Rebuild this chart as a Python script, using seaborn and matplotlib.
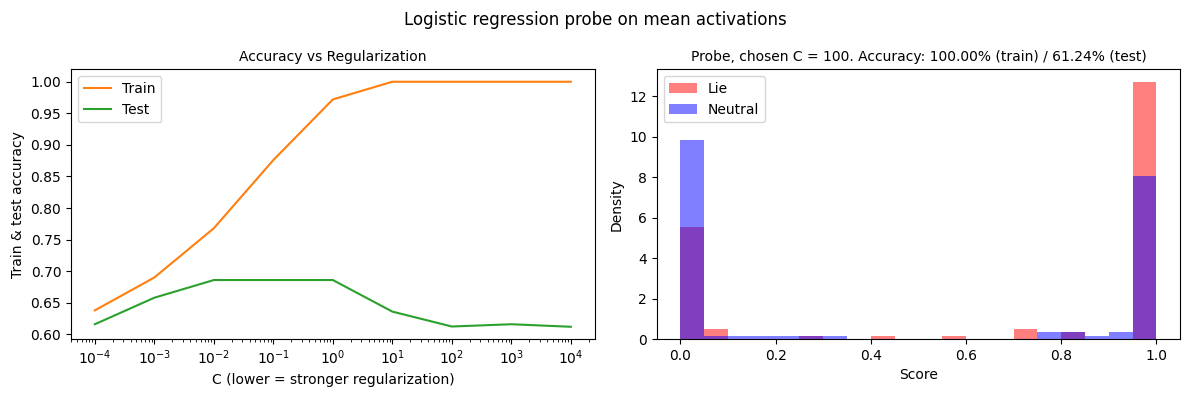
import numpy as np
import pandas as pd
import matplotlib
matplotlib.use("Agg")
import matplotlib.pyplot as plt
import seaborn as sns

# regularization sweep
c_values = [1e-4, 1e-3, 1e-2, 1e-1, 1e0, 1e1, 1e2, 1e3, 1e4]
train_acc = [0.638, 0.690, 0.768, 0.876, 0.972, 1.0, 1.0, 1.0, 1.0]
test_acc = [0.616, 0.658, 0.686, 0.686, 0.686, 0.636, 0.6124, 0.616, 0.612]

# score histogram: counts per bin (20 bins on [0, 1])
n_bins = 20
lie_counts = [34, 3, 0, 0, 0, 1, 0, 0, 1, 0, 0, 1, 0, 0, 3, 0, 2, 0, 0, 78]
neutral_counts = [60, 1, 1, 1, 1, 1, 1, 0, 0, 0, 0, 0, 0, 0, 0, 2, 2, 1, 2, 49]

fig, (ax1, ax2) = plt.subplots(1, 2, figsize=(11.9, 3.96), dpi=100)

# left: accuracy vs C
sns.lineplot(x=c_values, y=train_acc, ax=ax1, color="C1", label="Train")
sns.lineplot(x=c_values, y=test_acc, ax=ax1, color="C2", label="Test")
ax1.set_xscale("log")
ax1.set_xlabel("C (lower = stronger regularization)")
ax1.set_ylabel("Train & test accuracy")
ax1.set_title("Accuracy vs Regularization", fontsize=10)
ax1.legend(loc="upper left")

# right: score distributions
centers = (np.arange(n_bins) + 0.5) / n_bins
lie_df = pd.DataFrame({"score": centers, "count": lie_counts})
neu_df = pd.DataFrame({"score": centers, "count": neutral_counts})
sns.histplot(data=lie_df, x="score", weights="count", bins=n_bins, binrange=(0, 1),
             stat="density", color="red", alpha=0.5, linewidth=0, label="Lie", ax=ax2)
sns.histplot(data=neu_df, x="score", weights="count", bins=n_bins, binrange=(0, 1),
             stat="density", color="blue", alpha=0.5, linewidth=0, label="Neutral", ax=ax2)
ax2.set_xlabel("Score")
ax2.set_ylabel("Density")
ax2.set_title("Probe, chosen C = 100. Accuracy: 100.00% (train) / 61.24% (test)", fontsize=10)
ax2.legend(loc="upper left")

fig.suptitle("Logistic regression probe on mean activations", y=0.972)
fig.subplots_adjust(left=0.0597, right=0.9918, top=0.8245, bottom=0.1439, wspace=0.1184)
fig.savefig("out.png", dpi=100)
